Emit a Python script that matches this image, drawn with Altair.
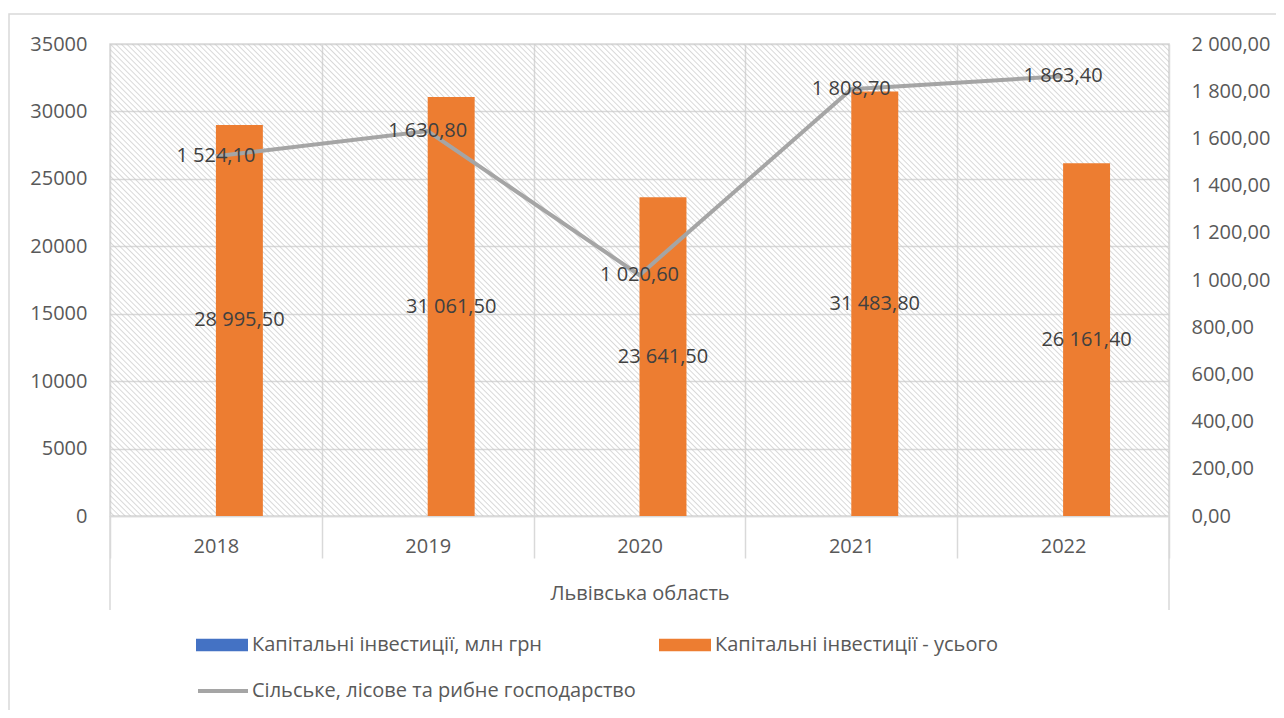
import altair as alt
import pandas as pd

# ---- data ----
years = ["2018", "2019", "2020", "2021", "2022"]
total_invest = [28995.5, 31061.5, 23641.5, 31483.8, 26161.4]
capital_mln = [0, 0, 0, 0, 0]
agri_invest = [1524.1, 1630.8, 1020.6, 1808.7, 1863.4]
series_names = ["Капітальні інвестиції, млн грн", "Капітальні інвестиції - усього"]
line_name = "Сільське, лісове та рибне господарство"
region = "Львівська область"
left_ticks = [0, 5000, 10000, 15000, 20000, 25000, 30000, 35000]
right_ticks = [0, 200, 400, 600, 800, 1000, 1200, 1400, 1600, 1800, 2000]

# ---- style ----
W, H = 1059, 472
FONT = "Open Sans"
TXT = "#595959"
DATA_TXT = "#404040"
GRID = "#d9d9d9"
FS = 20

bars_df = pd.concat([
    pd.DataFrame({"year": years, "value": capital_mln, "series": series_names[0]}),
    pd.DataFrame({"year": years, "value": total_invest, "series": series_names[1]}),
], ignore_index=True)
text_df = pd.DataFrame({"year": years, "value": total_invest, "series": series_names[1]})
line_df = pd.DataFrame({"year": years, "value": agri_invest, "series": line_name})

fmt_expr = "replace(replace(format(datum.value, ',.2f'), ',', ' '), '.', ',')"

# hatch background (diagonal stripes) as a gradient
N = 278
stops = []
for k in range(N):
    stops.append({"offset": k / N, "color": "rgba(200,200,200,0)"})
    stops.append({"offset": (k + 0.5) / N, "color": "rgba(200,200,200,0)"})
    stops.append({"offset": (k + 0.75) / N, "color": "rgba(200,200,200,0.7)"})
stops.append({"offset": 1.0, "color": "rgba(200,200,200,0)"})
hatch = {"gradient": "linear", "x1": 0, "y1": 1, "x2": 1.2061, "y2": 0.4624, "stops": stops}

dummy = pd.DataFrame({"d": [0]})

x_enc = alt.X(
    "year:N",
    sort=years,
    scale=alt.Scale(paddingInner=0, paddingOuter=0),
    axis=alt.Axis(
        title=region, tickBand="extent", ticks=True, tickSize=42, tickColor=GRID, tickWidth=1.5,
        grid=True, gridColor=GRID, gridWidth=1.5, domain=True, domainColor=GRID, domainWidth=1.5,
        labelAngle=0, labelPadding=-22, labelFontSize=FS, labelColor=TXT, labelFont=FONT,
        titleFontSize=FS, titleFontWeight="normal", titleColor=TXT, titleFont=FONT, titlePadding=25,
    ),
)
offset_domain = [" "] + series_names + ["  "]
xoff = alt.XOffset("series:N", scale=alt.Scale(domain=offset_domain, paddingInner=0, paddingOuter=0.255))
left_scale = alt.Scale(domain=[0, 35000], nice=False)
right_scale = alt.Scale(domain=[0, 2000], nice=False)
left_axis = alt.Axis(
    values=left_ticks, format="d", grid=True, gridColor=GRID, gridWidth=1.5, ticks=False,
    domain=False, labelPadding=23, labelFontSize=FS, labelColor=TXT, labelFont=FONT, title=None)
right_axis = alt.Axis(
    orient="right", values=right_ticks, labelExpr=fmt_expr, grid=False, ticks=False, domain=False,
    labelPadding=22, labelFontSize=FS, labelColor=TXT, labelFont=FONT, title=None)

bg = alt.Chart(dummy).mark_rect(fill=hatch).encode(
    x=alt.value(0), x2=alt.value(W), y=alt.value(0), y2=alt.value(H)
)
frame = alt.Chart(dummy).mark_rect(fill="transparent", stroke=GRID, strokeWidth=1.5).encode(
    x=alt.value(-101), x2=alt.value(W + 300), y=alt.value(-30), y2=alt.value(H + 400)
)
rule_l = alt.Chart(dummy).mark_rule(color=GRID, strokeWidth=1.5).encode(
    x=alt.value(0), y=alt.value(H), y2=alt.value(H + 94)
)
rule_r = alt.Chart(dummy).mark_rule(color=GRID, strokeWidth=1.5).encode(
    x=alt.value(W), y=alt.value(H), y2=alt.value(H + 94)
)

bars = alt.Chart(bars_df).mark_bar().encode(
    x=x_enc,
    xOffset=xoff,
    y=alt.Y("value:Q", scale=left_scale, axis=left_axis),
    color=alt.Color("series:N", scale=alt.Scale(domain=series_names, range=["#4472c4", "#ed7d31"]),
                    legend=alt.Legend(title=None, orient="none", legendX=86, legendY=575,
                                      direction="horizontal", columns=2, columnPadding=116,
                                      symbolType="M-1,-0.24H1V0.24H-1Z", symbolSize=2704,
                                      symbolStrokeWidth=0, symbolOpacity=1,
                                      labelFont=FONT,
                                      labelFontSize=FS, labelColor=TXT, labelOffset=4, labelLimit=800)),
)
bar_text = alt.Chart(text_df).transform_calculate(
    lab=fmt_expr, half="datum.value / 2"
).mark_text(font=FONT, fontSize=FS, color=DATA_TXT).encode(
    x=x_enc,
    xOffset=xoff,
    y=alt.Y("half:Q", scale=left_scale, axis=left_axis),
    text="lab:N",
)
left = alt.layer(bars, bar_text)

line = alt.Chart(line_df).mark_line(strokeWidth=4).encode(
    x=x_enc,
    y=alt.Y("value:Q", scale=right_scale, axis=right_axis),
    stroke=alt.Stroke("series:N", scale=alt.Scale(domain=[line_name], range=["#a5a5a5"]),
                      legend=alt.Legend(title=None, orient="none", legendX=86, legendY=620,
                                        symbolType="stroke", symbolSize=2500, symbolStrokeWidth=4,
                                        labelFont=FONT, labelFontSize=FS, labelColor=TXT,
                                        labelOffset=2, labelLimit=800)),
)
line_text = alt.Chart(line_df).transform_calculate(lab=fmt_expr).mark_text(
    font=FONT, fontSize=FS, color=DATA_TXT
).encode(
    x=x_enc,
    y=alt.Y("value:Q", scale=right_scale, axis=right_axis),
    text="lab:N",
)
right = alt.layer(line, line_text)

chart = alt.layer(bg, frame, rule_l, rule_r, left, right).resolve_scale(y="independent").properties(
    width=W, height=H,
    autosize=alt.AutoSizeParams(type="none"),
    padding={"left": 102, "top": 36, "right": 107, "bottom": 194},
    background="white",
).configure_view(stroke=GRID, strokeWidth=1.5)

chart.save("out.html", embed_options={"renderer": "svg", "actions": False})
